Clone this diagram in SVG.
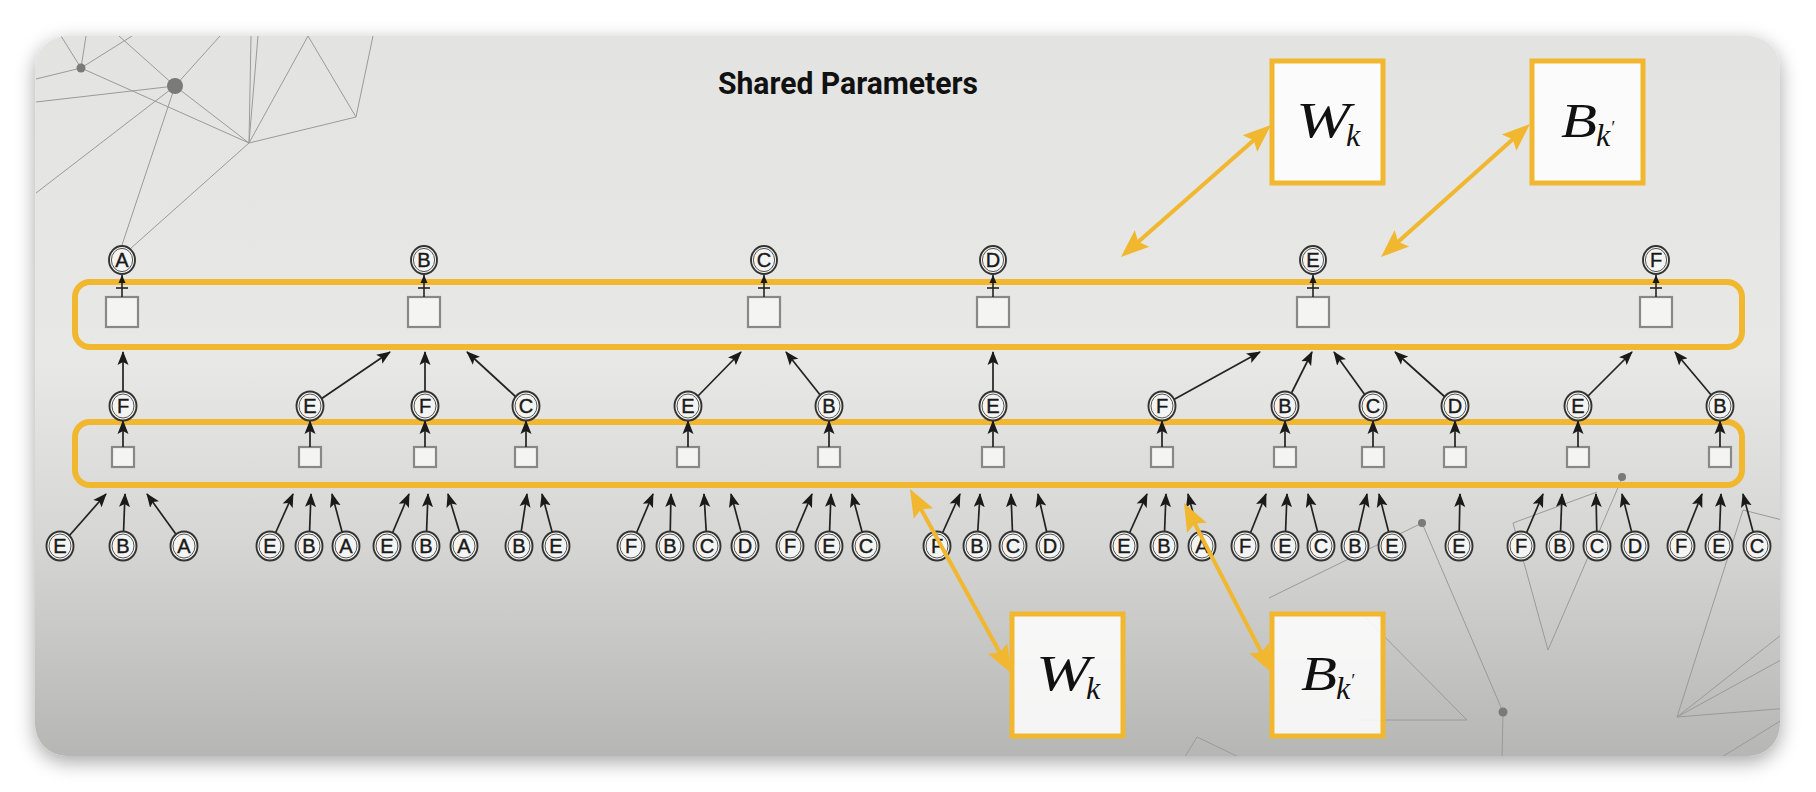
<svg xmlns="http://www.w3.org/2000/svg" width="1816" height="792" viewBox="0 0 1816 792">
<defs>
<linearGradient id="bg" x1="0" y1="0" x2="0" y2="1">
<stop offset="0" stop-color="#e3e3e1"/>
<stop offset="0.45" stop-color="#e8e8e6"/>
<stop offset="0.7" stop-color="#d6d6d4"/>
<stop offset="1" stop-color="#b6b6b4"/>
</linearGradient>
<filter id="sh" x="-5%" y="-10%" width="110%" height="125%">
<feGaussianBlur in="SourceAlpha" stdDeviation="10"/>
<feOffset dy="6"/>
<feComponentTransfer><feFuncA type="linear" slope="0.35"/></feComponentTransfer>
<feMerge><feMergeNode/><feMergeNode in="SourceGraphic"/></feMerge>
</filter>
<clipPath id="cardclip"><rect x="35" y="36" width="1745" height="720" rx="32"/></clipPath>
<marker id="ah" markerUnits="userSpaceOnUse" markerWidth="15" markerHeight="12" refX="13" refY="6" orient="auto"><path d="M0,0.5 L14,6 L0,11.5 L3,6 z" fill="#1a1a1a"/></marker>
<marker id="as" markerUnits="userSpaceOnUse" markerWidth="9" markerHeight="8" refX="8" refY="4" orient="auto"><path d="M0,0.5 L8,4 L0,7.5 z" fill="#1a1a1a"/></marker>
<marker id="yh" markerUnits="userSpaceOnUse" markerWidth="30" markerHeight="24" refX="20" refY="12" orient="auto-start-reverse"><path d="M0,1 L28,12 L0,23 L5,12 z" fill="#f0b72f"/></marker>
<style>
.c{fill:#f4f4f3;stroke:#333;stroke-width:1.9}
.ci{fill:none;stroke:#555;stroke-width:1}
.l{font-family:"Liberation Sans",Arial,sans-serif;font-size:20px;text-anchor:middle;fill:#1a1a1a;stroke:#1a1a1a;stroke-width:0.4}
.bx{fill:#f4f4f3;stroke:#888;stroke-width:2.2}
.layer{fill:none;stroke:#f0b72f;stroke-width:6}
.ar{fill:none;stroke:#222;stroke-width:1.7;marker-end:url(#ah)}
.as{fill:none;stroke:#222;stroke-width:1.6;marker-end:url(#as)}
.tee{stroke:#222;stroke-width:1.6}
.ya{fill:none;stroke:#f0b72f;stroke-width:4;marker-start:url(#yh);marker-end:url(#yh)}
.pb{fill:#fff;fill-opacity:0.85;stroke:#f0b72f;stroke-width:5}
.m{font-family:"Liberation Serif","Times New Roman",serif;font-style:italic;fill:#111}
.deco line,.deco polyline{stroke:#9a9a9a;stroke-width:1;fill:none}
.deco circle{fill:#7a7a7a}
</style>
</defs>
<rect x="0" y="0" width="1816" height="792" fill="#ffffff"/>
<g id="card">
<rect x="35" y="36" width="1745" height="720" rx="32" fill="url(#bg)" filter="url(#sh)"/>
</g>
<g id="decoration" class="deco" clip-path="url(#cardclip)">
<line x1="61" y1="36" x2="81" y2="68"/>
<line x1="86" y1="36" x2="81" y2="68"/>
<line x1="36" y1="79" x2="81" y2="68"/>
<line x1="81" y1="68" x2="132" y2="36"/>
<line x1="81" y1="68" x2="249" y2="143"/>
<line x1="36" y1="102" x2="175" y2="86"/>
<line x1="36" y1="193" x2="175" y2="86"/>
<polyline points="119,36 175,86 249,143"/>
<line x1="220" y1="36" x2="175" y2="86"/>
<line x1="175" y1="86" x2="121" y2="248"/>
<line x1="249" y1="143" x2="130" y2="249"/>
<line x1="251" y1="36" x2="249" y2="143"/>
<line x1="258" y1="36" x2="249" y2="143"/>
<line x1="249" y1="143" x2="308" y2="36"/>
<line x1="308" y1="36" x2="356" y2="117"/>
<line x1="373" y1="36" x2="356" y2="117"/>
<line x1="249" y1="143" x2="356" y2="117"/>
<circle cx="81" cy="68" r="4.5"/>
<circle cx="175" cy="86" r="8"/>
<line x1="1422" y1="523" x2="1269" y2="598"/>
<polyline points="1422,523 1503,712 1502,760"/>
<line x1="1360" y1="612" x2="1467" y2="720"/>
<line x1="1360" y1="720" x2="1467" y2="720"/>
<polyline points="1183,760 1197,737 1245,760"/>
<line x1="1513" y1="523" x2="1597" y2="492"/>
<polyline points="1513,523 1548,650 1623,476"/>
<line x1="1677" y1="717" x2="1743" y2="510"/>
<line x1="1677" y1="717" x2="1790" y2="655"/>
<line x1="1677" y1="717" x2="1790" y2="628"/>
<line x1="1677" y1="717" x2="1790" y2="708"/>
<line x1="1717" y1="760" x2="1790" y2="715"/>
<line x1="1743" y1="510" x2="1790" y2="522"/>
<circle cx="1422" cy="523" r="4"/>
<circle cx="1503" cy="712" r="4.5"/>
<circle cx="1622" cy="477" r="4"/>
</g>
<g id="title"><text x="718" y="94" font-family="Roboto,'Liberation Sans',sans-serif" font-weight="bold" font-size="31" fill="#111" textLength="260" lengthAdjust="spacingAndGlyphs">Shared Parameters</text></g>
<g id="layer2"><rect class="layer" x="75" y="282" width="1667" height="65" rx="15"/></g>
<g id="layer1"><rect class="layer" x="75" y="422" width="1667" height="63" rx="15"/></g>
<g id="top-boxes">
<g id="tb1"><rect class="bx" x="106" y="297" width="32" height="30"/></g>
<g id="tb2"><rect class="bx" x="408" y="297" width="32" height="30"/></g>
<g id="tb3"><rect class="bx" x="748" y="297" width="32" height="30"/></g>
<g id="tb4"><rect class="bx" x="977" y="297" width="32" height="30"/></g>
<g id="tb5"><rect class="bx" x="1297" y="297" width="32" height="30"/></g>
<g id="tb6"><rect class="bx" x="1640" y="297" width="32" height="30"/></g>
</g>
<g id="small-boxes">
<g id="sb1"><rect class="bx" x="112" y="447" width="22" height="20"/></g>
<g id="sb2"><rect class="bx" x="299" y="447" width="22" height="20"/></g>
<g id="sb3"><rect class="bx" x="414" y="447" width="22" height="20"/></g>
<g id="sb4"><rect class="bx" x="515" y="447" width="22" height="20"/></g>
<g id="sb5"><rect class="bx" x="677" y="447" width="22" height="20"/></g>
<g id="sb6"><rect class="bx" x="818" y="447" width="22" height="20"/></g>
<g id="sb7"><rect class="bx" x="982" y="447" width="22" height="20"/></g>
<g id="sb8"><rect class="bx" x="1151" y="447" width="22" height="20"/></g>
<g id="sb9"><rect class="bx" x="1274" y="447" width="22" height="20"/></g>
<g id="sb10"><rect class="bx" x="1362" y="447" width="22" height="20"/></g>
<g id="sb11"><rect class="bx" x="1444" y="447" width="22" height="20"/></g>
<g id="sb12"><rect class="bx" x="1567" y="447" width="22" height="20"/></g>
<g id="sb13"><rect class="bx" x="1709" y="447" width="22" height="20"/></g>
</g>
<g id="connectors">
<line class="tee" x1="116" y1="288" x2="128" y2="288"/><line class="as" x1="122" y1="297" x2="122" y2="275"/>
<line class="tee" x1="418" y1="288" x2="430" y2="288"/><line class="as" x1="424" y1="297" x2="424" y2="275"/>
<line class="tee" x1="758" y1="288" x2="770" y2="288"/><line class="as" x1="764" y1="297" x2="764" y2="275"/>
<line class="tee" x1="987" y1="288" x2="999" y2="288"/><line class="as" x1="993" y1="297" x2="993" y2="275"/>
<line class="tee" x1="1307" y1="288" x2="1319" y2="288"/><line class="as" x1="1313" y1="297" x2="1313" y2="275"/>
<line class="tee" x1="1650" y1="288" x2="1662" y2="288"/><line class="as" x1="1656" y1="297" x2="1656" y2="275"/>
<line class="ar" x1="123" y1="447" x2="123" y2="421"/>
<line class="ar" x1="310" y1="447" x2="310" y2="421"/>
<line class="ar" x1="425" y1="447" x2="425" y2="421"/>
<line class="ar" x1="526" y1="447" x2="526" y2="421"/>
<line class="ar" x1="688" y1="447" x2="688" y2="421"/>
<line class="ar" x1="829" y1="447" x2="829" y2="421"/>
<line class="ar" x1="993" y1="447" x2="993" y2="421"/>
<line class="ar" x1="1162" y1="447" x2="1162" y2="421"/>
<line class="ar" x1="1285" y1="447" x2="1285" y2="421"/>
<line class="ar" x1="1373" y1="447" x2="1373" y2="421"/>
<line class="ar" x1="1455" y1="447" x2="1455" y2="421"/>
<line class="ar" x1="1578" y1="447" x2="1578" y2="421"/>
<line class="ar" x1="1720" y1="447" x2="1720" y2="421"/>
<line class="ar" x1="123" y1="393" x2="123" y2="352"/>
<line class="ar" x1="321" y1="399" x2="390" y2="352"/>
<line class="ar" x1="425" y1="393" x2="425" y2="352"/>
<line class="ar" x1="516" y1="397" x2="467" y2="352"/>
<line class="ar" x1="697" y1="397" x2="741" y2="352"/>
<line class="ar" x1="821" y1="396" x2="786" y2="352"/>
<line class="ar" x1="993" y1="393" x2="993" y2="352"/>
<line class="ar" x1="1173" y1="400" x2="1260" y2="352"/>
<line class="ar" x1="1291" y1="394" x2="1312" y2="352"/>
<line class="ar" x1="1365" y1="395" x2="1334" y2="352"/>
<line class="ar" x1="1445" y1="397" x2="1395" y2="352"/>
<line class="ar" x1="1587" y1="397" x2="1632" y2="352"/>
<line class="ar" x1="1712" y1="396" x2="1675" y2="352"/>
<line class="ar" x1="69" y1="536" x2="106" y2="494"/>
<line class="ar" x1="123.5" y1="533" x2="125" y2="494"/>
<line class="ar" x1="176.5" y1="535" x2="147" y2="494"/>
<line class="ar" x1="275" y1="534" x2="293" y2="494"/>
<line class="ar" x1="309.5" y1="533" x2="311" y2="494"/>
<line class="ar" x1="342.5" y1="533.5" x2="332" y2="494"/>
<line class="ar" x1="392" y1="534" x2="409" y2="494"/>
<line class="ar" x1="426.5" y1="533" x2="428" y2="494"/>
<line class="ar" x1="460" y1="533.5" x2="448" y2="494"/>
<line class="ar" x1="521" y1="533" x2="527" y2="494"/>
<line class="ar" x1="552.5" y1="533.5" x2="542" y2="494"/>
<line class="ar" x1="636" y1="534" x2="653" y2="494"/>
<line class="ar" x1="670.2" y1="533" x2="671" y2="494"/>
<line class="ar" x1="706.3" y1="533" x2="704" y2="494"/>
<line class="ar" x1="741.5" y1="533.5" x2="731" y2="494"/>
<line class="ar" x1="795" y1="534" x2="812" y2="494"/>
<line class="ar" x1="829.5" y1="533" x2="831" y2="494"/>
<line class="ar" x1="862.5" y1="533.5" x2="852" y2="494"/>
<line class="ar" x1="942" y1="534" x2="960" y2="494"/>
<line class="ar" x1="977.7" y1="533" x2="980" y2="494"/>
<line class="ar" x1="1012.5" y1="533" x2="1011" y2="494"/>
<line class="ar" x1="1047" y1="533.3" x2="1038" y2="494"/>
<line class="ar" x1="1129" y1="534" x2="1147" y2="494"/>
<line class="ar" x1="1164.5" y1="533" x2="1166" y2="494"/>
<line class="ar" x1="1198.5" y1="533.5" x2="1188" y2="494"/>
<line class="ar" x1="1250" y1="534" x2="1266" y2="494"/>
<line class="ar" x1="1285.5" y1="533" x2="1287" y2="494"/>
<line class="ar" x1="1318" y1="533.4" x2="1308" y2="494"/>
<line class="ar" x1="1358" y1="533.3" x2="1367" y2="494"/>
<line class="ar" x1="1389" y1="533.4" x2="1379" y2="494"/>
<line class="ar" x1="1459.2" y1="533" x2="1460" y2="494"/>
<line class="ar" x1="1526" y1="534" x2="1543" y2="494"/>
<line class="ar" x1="1560.5" y1="533" x2="1562" y2="494"/>
<line class="ar" x1="1596.8" y1="533" x2="1596" y2="494"/>
<line class="ar" x1="1632" y1="533.4" x2="1622" y2="494"/>
<line class="ar" x1="1686" y1="534" x2="1702" y2="494"/>
<line class="ar" x1="1719.5" y1="533" x2="1721" y2="494"/>
<line class="ar" x1="1753.5" y1="533.5" x2="1743" y2="494"/>
</g>
<g id="top-nodes">
<g id="t1" transform="translate(122,260)"><ellipse class="c" rx="13" ry="14"/><ellipse class="ci" rx="10.6" ry="11.6"/><text class="l" y="7">A</text></g>
<g id="t2" transform="translate(424,260)"><ellipse class="c" rx="13" ry="14"/><ellipse class="ci" rx="10.6" ry="11.6"/><text class="l" y="7">B</text></g>
<g id="t3" transform="translate(764,260)"><ellipse class="c" rx="13" ry="14"/><ellipse class="ci" rx="10.6" ry="11.6"/><text class="l" y="7">C</text></g>
<g id="t4" transform="translate(993,260)"><ellipse class="c" rx="13" ry="14"/><ellipse class="ci" rx="10.6" ry="11.6"/><text class="l" y="7">D</text></g>
<g id="t5" transform="translate(1313,260)"><ellipse class="c" rx="13" ry="14"/><ellipse class="ci" rx="10.6" ry="11.6"/><text class="l" y="7">E</text></g>
<g id="t6" transform="translate(1656,260)"><ellipse class="c" rx="13" ry="14"/><ellipse class="ci" rx="10.6" ry="11.6"/><text class="l" y="7">F</text></g>
</g>
<g id="mid-nodes">
<g id="m1" transform="translate(123,406)"><ellipse class="c" rx="13.5" ry="14.5"/><ellipse class="ci" rx="11" ry="12"/><text class="l" y="7">F</text></g>
<g id="m2" transform="translate(310,406)"><ellipse class="c" rx="13.5" ry="14.5"/><ellipse class="ci" rx="11" ry="12"/><text class="l" y="7">E</text></g>
<g id="m3" transform="translate(425,406)"><ellipse class="c" rx="13.5" ry="14.5"/><ellipse class="ci" rx="11" ry="12"/><text class="l" y="7">F</text></g>
<g id="m4" transform="translate(526,406)"><ellipse class="c" rx="13.5" ry="14.5"/><ellipse class="ci" rx="11" ry="12"/><text class="l" y="7">C</text></g>
<g id="m5" transform="translate(688,406)"><ellipse class="c" rx="13.5" ry="14.5"/><ellipse class="ci" rx="11" ry="12"/><text class="l" y="7">E</text></g>
<g id="m6" transform="translate(829,406)"><ellipse class="c" rx="13.5" ry="14.5"/><ellipse class="ci" rx="11" ry="12"/><text class="l" y="7">B</text></g>
<g id="m7" transform="translate(993,406)"><ellipse class="c" rx="13.5" ry="14.5"/><ellipse class="ci" rx="11" ry="12"/><text class="l" y="7">E</text></g>
<g id="m8" transform="translate(1162,406)"><ellipse class="c" rx="13.5" ry="14.5"/><ellipse class="ci" rx="11" ry="12"/><text class="l" y="7">F</text></g>
<g id="m9" transform="translate(1285,406)"><ellipse class="c" rx="13.5" ry="14.5"/><ellipse class="ci" rx="11" ry="12"/><text class="l" y="7">B</text></g>
<g id="m10" transform="translate(1373,406)"><ellipse class="c" rx="13.5" ry="14.5"/><ellipse class="ci" rx="11" ry="12"/><text class="l" y="7">C</text></g>
<g id="m11" transform="translate(1455,406)"><ellipse class="c" rx="13.5" ry="14.5"/><ellipse class="ci" rx="11" ry="12"/><text class="l" y="7">D</text></g>
<g id="m12" transform="translate(1578,406)"><ellipse class="c" rx="13.5" ry="14.5"/><ellipse class="ci" rx="11" ry="12"/><text class="l" y="7">E</text></g>
<g id="m13" transform="translate(1720,406)"><ellipse class="c" rx="13.5" ry="14.5"/><ellipse class="ci" rx="11" ry="12"/><text class="l" y="7">B</text></g>
</g>
<g id="bottom-nodes">
<g id="b1" transform="translate(60,546)"><ellipse class="c" rx="13.5" ry="14.5"/><ellipse class="ci" rx="11" ry="12"/><text class="l" y="7">E</text></g>
<g id="b2" transform="translate(123,546)"><ellipse class="c" rx="13.5" ry="14.5"/><ellipse class="ci" rx="11" ry="12"/><text class="l" y="7">B</text></g>
<g id="b3" transform="translate(184,546)"><ellipse class="c" rx="13.5" ry="14.5"/><ellipse class="ci" rx="11" ry="12"/><text class="l" y="7">A</text></g>
<g id="b4" transform="translate(270,546)"><ellipse class="c" rx="13.5" ry="14.5"/><ellipse class="ci" rx="11" ry="12"/><text class="l" y="7">E</text></g>
<g id="b5" transform="translate(309,546)"><ellipse class="c" rx="13.5" ry="14.5"/><ellipse class="ci" rx="11" ry="12"/><text class="l" y="7">B</text></g>
<g id="b6" transform="translate(346,546)"><ellipse class="c" rx="13.5" ry="14.5"/><ellipse class="ci" rx="11" ry="12"/><text class="l" y="7">A</text></g>
<g id="b7" transform="translate(387,546)"><ellipse class="c" rx="13.5" ry="14.5"/><ellipse class="ci" rx="11" ry="12"/><text class="l" y="7">E</text></g>
<g id="b8" transform="translate(426,546)"><ellipse class="c" rx="13.5" ry="14.5"/><ellipse class="ci" rx="11" ry="12"/><text class="l" y="7">B</text></g>
<g id="b9" transform="translate(464,546)"><ellipse class="c" rx="13.5" ry="14.5"/><ellipse class="ci" rx="11" ry="12"/><text class="l" y="7">A</text></g>
<g id="b10" transform="translate(519,546)"><ellipse class="c" rx="13.5" ry="14.5"/><ellipse class="ci" rx="11" ry="12"/><text class="l" y="7">B</text></g>
<g id="b11" transform="translate(556,546)"><ellipse class="c" rx="13.5" ry="14.5"/><ellipse class="ci" rx="11" ry="12"/><text class="l" y="7">E</text></g>
<g id="b12" transform="translate(631,546)"><ellipse class="c" rx="13.5" ry="14.5"/><ellipse class="ci" rx="11" ry="12"/><text class="l" y="7">F</text></g>
<g id="b13" transform="translate(670,546)"><ellipse class="c" rx="13.5" ry="14.5"/><ellipse class="ci" rx="11" ry="12"/><text class="l" y="7">B</text></g>
<g id="b14" transform="translate(707,546)"><ellipse class="c" rx="13.5" ry="14.5"/><ellipse class="ci" rx="11" ry="12"/><text class="l" y="7">C</text></g>
<g id="b15" transform="translate(745,546)"><ellipse class="c" rx="13.5" ry="14.5"/><ellipse class="ci" rx="11" ry="12"/><text class="l" y="7">D</text></g>
<g id="b16" transform="translate(790,546)"><ellipse class="c" rx="13.5" ry="14.5"/><ellipse class="ci" rx="11" ry="12"/><text class="l" y="7">F</text></g>
<g id="b17" transform="translate(829,546)"><ellipse class="c" rx="13.5" ry="14.5"/><ellipse class="ci" rx="11" ry="12"/><text class="l" y="7">E</text></g>
<g id="b18" transform="translate(866,546)"><ellipse class="c" rx="13.5" ry="14.5"/><ellipse class="ci" rx="11" ry="12"/><text class="l" y="7">C</text></g>
<g id="b19" transform="translate(937,546)"><ellipse class="c" rx="13.5" ry="14.5"/><ellipse class="ci" rx="11" ry="12"/><text class="l" y="7">F</text></g>
<g id="b20" transform="translate(977,546)"><ellipse class="c" rx="13.5" ry="14.5"/><ellipse class="ci" rx="11" ry="12"/><text class="l" y="7">B</text></g>
<g id="b21" transform="translate(1013,546)"><ellipse class="c" rx="13.5" ry="14.5"/><ellipse class="ci" rx="11" ry="12"/><text class="l" y="7">C</text></g>
<g id="b22" transform="translate(1050,546)"><ellipse class="c" rx="13.5" ry="14.5"/><ellipse class="ci" rx="11" ry="12"/><text class="l" y="7">D</text></g>
<g id="b23" transform="translate(1124,546)"><ellipse class="c" rx="13.5" ry="14.5"/><ellipse class="ci" rx="11" ry="12"/><text class="l" y="7">E</text></g>
<g id="b24" transform="translate(1164,546)"><ellipse class="c" rx="13.5" ry="14.5"/><ellipse class="ci" rx="11" ry="12"/><text class="l" y="7">B</text></g>
<g id="b25" transform="translate(1202,546)"><ellipse class="c" rx="13.5" ry="14.5"/><ellipse class="ci" rx="11" ry="12"/><text class="l" y="7">A</text></g>
<g id="b26" transform="translate(1245,546)"><ellipse class="c" rx="13.5" ry="14.5"/><ellipse class="ci" rx="11" ry="12"/><text class="l" y="7">F</text></g>
<g id="b27" transform="translate(1285,546)"><ellipse class="c" rx="13.5" ry="14.5"/><ellipse class="ci" rx="11" ry="12"/><text class="l" y="7">E</text></g>
<g id="b28" transform="translate(1321,546)"><ellipse class="c" rx="13.5" ry="14.5"/><ellipse class="ci" rx="11" ry="12"/><text class="l" y="7">C</text></g>
<g id="b29" transform="translate(1355,546)"><ellipse class="c" rx="13.5" ry="14.5"/><ellipse class="ci" rx="11" ry="12"/><text class="l" y="7">B</text></g>
<g id="b30" transform="translate(1392,546)"><ellipse class="c" rx="13.5" ry="14.5"/><ellipse class="ci" rx="11" ry="12"/><text class="l" y="7">E</text></g>
<g id="b31" transform="translate(1459,546)"><ellipse class="c" rx="13.5" ry="14.5"/><ellipse class="ci" rx="11" ry="12"/><text class="l" y="7">E</text></g>
<g id="b32" transform="translate(1521,546)"><ellipse class="c" rx="13.5" ry="14.5"/><ellipse class="ci" rx="11" ry="12"/><text class="l" y="7">F</text></g>
<g id="b33" transform="translate(1560,546)"><ellipse class="c" rx="13.5" ry="14.5"/><ellipse class="ci" rx="11" ry="12"/><text class="l" y="7">B</text></g>
<g id="b34" transform="translate(1597,546)"><ellipse class="c" rx="13.5" ry="14.5"/><ellipse class="ci" rx="11" ry="12"/><text class="l" y="7">C</text></g>
<g id="b35" transform="translate(1635,546)"><ellipse class="c" rx="13.5" ry="14.5"/><ellipse class="ci" rx="11" ry="12"/><text class="l" y="7">D</text></g>
<g id="b36" transform="translate(1681,546)"><ellipse class="c" rx="13.5" ry="14.5"/><ellipse class="ci" rx="11" ry="12"/><text class="l" y="7">F</text></g>
<g id="b37" transform="translate(1719,546)"><ellipse class="c" rx="13.5" ry="14.5"/><ellipse class="ci" rx="11" ry="12"/><text class="l" y="7">E</text></g>
<g id="b38" transform="translate(1757,546)"><ellipse class="c" rx="13.5" ry="14.5"/><ellipse class="ci" rx="11" ry="12"/><text class="l" y="7">C</text></g>
</g>
<g id="param-top-W"><rect class="pb" x="1272" y="61" width="111" height="122"/><text class="m" x="1296" y="137" font-size="50" textLength="54" lengthAdjust="spacingAndGlyphs">W</text><text class="m" x="1346" y="146" font-size="32">k</text></g>
<g id="param-top-B"><rect class="pb" x="1532" y="61" width="111" height="122"/><text class="m" x="1561" y="137" font-size="48" textLength="36" lengthAdjust="spacingAndGlyphs">B</text><text class="m" x="1596" y="146" font-size="32">k<tspan font-size="18" dy="-12">′</tspan></text></g>
<g id="param-bot-W"><rect class="pb" x="1012" y="614" width="111" height="122"/><text class="m" x="1036" y="690" font-size="50" textLength="54" lengthAdjust="spacingAndGlyphs">W</text><text class="m" x="1086" y="699" font-size="32">k</text></g>
<g id="param-bot-B"><rect class="pb" x="1272" y="614" width="111" height="122"/><text class="m" x="1301" y="690" font-size="48" textLength="36" lengthAdjust="spacingAndGlyphs">B</text><text class="m" x="1336" y="699" font-size="32">k<tspan font-size="18" dy="-12">′</tspan></text></g>
<g id="shared-links">
<line class="ya" x1="1127" y1="251.7" x2="1265" y2="130.3"/>
<line class="ya" x1="1387" y1="251.7" x2="1524" y2="129.3"/>
<line class="ya" x1="913.8" y1="496" x2="1007.2" y2="666"/>
<line class="ya" x1="1187.7" y1="510.1" x2="1268.3" y2="665.9"/>
</g>
</svg>
